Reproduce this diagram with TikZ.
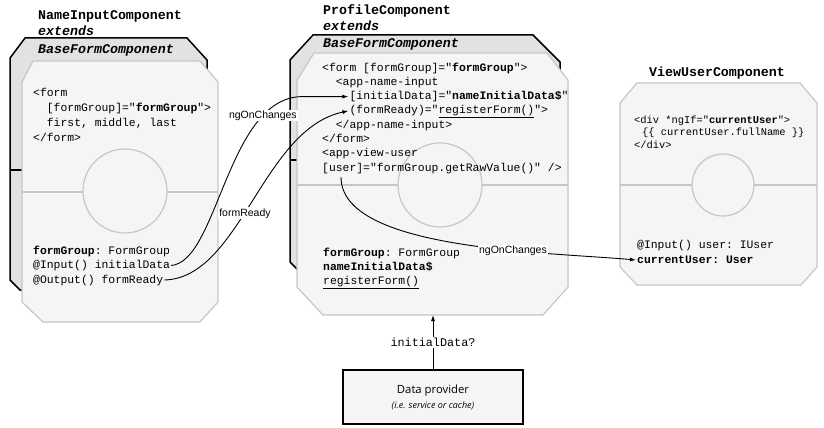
\documentclass[tikz,border=0pt]{standalone}
\usepackage{fontspec}
\setmonofont{Liberation Mono}
\setsansfont{Liberation Sans}
\newfontfamily\provfont{Open Sans}
\usetikzlibrary{arrows.meta,positioning,calc}
\definecolor{PlateLine}{HTML}{C6C6C6}
\definecolor{PlateFill}{HTML}{F5F5F5}
\definecolor{BackFill}{HTML}{E2E2E2}
\newcommand{\codesz}{\ttfamily\fontsize{11.4}{14}\selectfont}
\newcommand{\smallsz}{\ttfamily\fontsize{10.4}{12}\selectfont}
\newcommand{\titlefnt}{\ttfamily\bfseries\fontsize{13.3}{16}\selectfont}

\begin{document}
\begin{tikzpicture}[
  x=1pt,y=-1pt,
  back/.style={draw=black,line width=1.5pt,fill=BackFill},
  backline/.style={draw=black,line width=1.5pt},
  front/.style={draw=PlateLine,line width=1.2pt,fill=PlateFill},
  divider/.style={draw=PlateLine,line width=1.2pt},
  hub/.style={draw=PlateLine,line width=1.2pt,fill=PlateFill},
  title/.style={font=\titlefnt,anchor=base west,inner sep=0pt},
  ext/.style={font=\titlefnt\itshape},
  code/.style={font=\codesz,anchor=base west,inner sep=1pt,text height=8.5pt,text depth=2.5pt},
  small/.style={font=\smallsz,anchor=base west,inner sep=1pt},
  stack/.style args={#1 by #2}{below=#2 of #1.base west,anchor=base west},
  lbl/.style={font=\sffamily\fontsize{10.5}{12}\selectfont,fill=white,inner sep=1pt},
  prov/.style={draw=black,line width=1.3pt,fill=PlateFill,minimum width=180pt,minimum height=54pt,align=center,font=\provfont\fontsize{11.3}{14}\selectfont},
  arr/.style={-{Latex[length=6pt,width=4pt]},line width=0.9pt}
]
\useasboundingbox (0,0) rectangle (824,428);

% NameInputComponent
\draw[back] (10,58) -- (25,38) -- (187,38) -- (207,60) -- (207,290) -- (20,290) -- (10,280) -- cycle;
\draw[backline] (10,170) -- (207,170);
\draw[front] (22,82) -- (33,61) -- (200,61) -- (218,82) -- (218,302) -- (200,322) -- (43,322) -- (22,302) -- cycle;
\draw[divider] (22,192) -- (218,192);
\draw[hub] (125,191) circle[radius=42];
\node[title] (nameTitle) at (38,20) {NameInputComponent};
\node[title,ext,stack={nameTitle by 16pt}] (nameExt) {extends};
\node[title,ext,stack={nameExt by 17pt}] (nameBase) {BaseFormComponent};
\node[code] (nfForm) at (32,96) {<form};
\node[code,stack={nfForm by 15pt},xshift=13.7pt] (nfGroup) {[formGroup]="\textbf{formGroup}">};
\node[code,stack={nfGroup by 15pt}] (nfFields) {first, middle, last};
\node[code,stack={nfFields by 15pt},xshift=-13.7pt] (nfEnd) {</form>};
\node[code] (nfProp) at (32,254) {\textbf{formGroup}: FormGroup};
\node[code,stack={nfProp by 14.5pt}] (inData) {@Input() initialData};
\node[code,stack={inData by 14.5pt}] (outReady) {@Output() formReady};

% ProfileComponent
\draw[back] (290,60) -- (313,35) -- (533,35) -- (560,62) -- (560,272) -- (300,272) -- (290,262) -- cycle;
\draw[backline] (290,160) -- (560,160);
\draw[front] (297,80) -- (314,53) -- (547,53) -- (568,80) -- (568,287) -- (543,315) -- (323,315) -- (297,287) -- cycle;
\draw[divider] (297,185) -- (568,185);
\draw[hub] (440,185) circle[radius=42];
\node[title] (profTitle) at (323,15) {ProfileComponent};
\node[title,ext,stack={profTitle by 16pt}] (profExt) {extends};
\node[title,ext,stack={profExt by 17pt}] (profBase) {BaseFormComponent};
\node[code] (pfForm) at (321,71) {<form [formGroup]="\textbf{formGroup}">};
\node[code,stack={pfForm by 14.3pt},xshift=13.7pt] (pfInput) {<app-name-input};
\node[code,stack={pfInput by 14.3pt},xshift=13.7pt] (initAttr) {[initialData]="\textbf{nameInitialData\$}"};
\node[code,stack={initAttr by 14.3pt}] (readyAttr) {(formReady)="\underline{registerForm()}">};
\node[code,stack={readyAttr by 14.3pt},xshift=-13.7pt] (pfInputEnd) {</app-name-input>};
\node[code,stack={pfInputEnd by 14.3pt},xshift=-13.7pt] (pfFormEnd) {</form>};
\node[code,stack={pfFormEnd by 14.3pt}] (pfView) {<app-view-user};
\node[code,stack={pfView by 14.3pt}] (userAttr) {[user]="formGroup.getRawValue()" />};
\node[code] (pfProp) at (322,256) {\textbf{formGroup}: FormGroup};
\node[code,stack={pfProp by 14pt},font=\codesz\bfseries] (pfData) {nameInitialData\$};
\node[code,stack={pfData by 14pt}] (pfReg) {\underline{registerForm()}};

% ViewUserComponent
\draw[front] (620,103) -- (637,83) -- (800,83) -- (817,103) -- (817,267) -- (801,285) -- (637,285) -- (620,267) -- cycle;
\draw[divider] (620,185) -- (817,185);
\draw[hub] (723,185) circle[radius=31];
\node[title,anchor=base] (viewTitle) at (717,77) {ViewUserComponent};
\node[small] (vuDiv) at (633,123) {<div *ngIf="\textbf{currentUser}">};
\node[small,stack={vuDiv by 12.5pt},xshift=8pt] (vuName) {\{\{ currentUser.fullName \}\}};
\node[small,stack={vuName by 12.5pt},xshift=-8pt] (vuEnd) {</div>};
\node[code] (vuInput) at (636,248) {@Input() user: IUser};
\node[code,stack={vuInput by 15pt},font=\codesz\bfseries] (curUser) {currentUser: User};

% data provider
\node[prov] (prov) at (433,397) {Data provider\\[1pt]{\itshape\fontsize{9}{11}\selectfont (i.e. service or cache)}};
\coordinate (profFoot) at (433,315);

\draw[arr] (inData.east) .. controls +(47,-4) and +(-75,0) .. ($(initAttr.west)+(-46,0)$) node[lbl,pos=0.79] (lblChange) {ngOnChanges} -- (initAttr.west);
\draw[arr] (outReady.east) .. controls +(76,-2) and +(-86,18) .. (readyAttr.west) node[lbl,pos=0.45] (lblReady) {formReady};
\draw[arr] ($(userAttr.base west)+(20,6)$) .. controls +(0,73) and +(-90,-8) .. (curUser.west) node[lbl,pos=0.65] (lblUser) {ngOnChanges};
\draw[arr] (prov) -- (profFoot) node[midway,fill=white,font=\ttfamily\fontsize{11.8}{14}\selectfont,inner sep=1pt] (lblInit) {initialData?};
\end{tikzpicture}
\end{document}
